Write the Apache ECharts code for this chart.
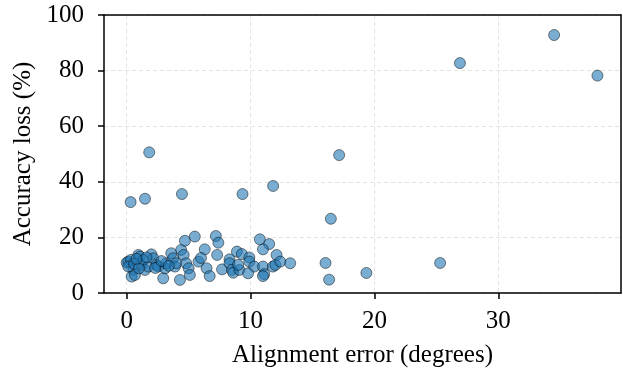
<!DOCTYPE html>
<html>
<head>
<meta charset="utf-8">
<script src="https://cdn.jsdelivr.net/npm/echarts@6/dist/echarts.min.js"></script>
<style>
  html, body { margin: 0; padding: 0; background: #fff; }
  #chart { width: 623px; height: 369px; }
</style>
</head>
<body>
<div id="chart"></div>
<script>
// alignment error (degrees) per run
var alignErr = [
  1.82, 0.32, 1.48, 4.46, 9.35, 11.82, 17.15, 16.48, 16.05, 16.34, 19.35, 25.3, 26.9, 34.5, 38.0,
  0.0, 0.13, 0.35, 0.54, 0.13, 0.4, 0.67, 0.94, 1.07, 1.2, 1.34, 1.48, 1.74, 2.0, 2.15, 2.4,
  2.55, 2.95, 3.1, 3.2, 3.6, 3.75, 3.9, 4.0, 4.3, 4.4, 4.6, 4.7, 4.8, 5.0, 5.1, 5.5, 5.8, 6.3, 6.45,
  6.7, 7.2, 7.4, 7.3, 7.7, 8.3, 8.3, 8.9, 9.3, 9.9, 9.9, 10.3, 8.5, 8.6, 9.1, 9.0, 9.8,
  10.75, 11.5, 11.0, 11.0, 11.1, 11.0, 11.8, 12.0, 12.1, 12.4, 13.2,
  0.6, 1.0, 0.8, 1.6, 2.3, 2.8, 3.4, 6.0
];
// accuracy loss (%) for the same runs
var accLoss = [
  50.6, 32.7, 33.9, 35.6, 35.6, 38.5, 49.6, 26.7, 10.8, 4.8, 7.2, 10.8, 82.7, 92.8, 78.2,
  10.9, 11.3, 11.9, 8.3, 9.5, 5.9, 6.5, 13.7, 13.1, 10.1, 11.9, 8.3, 9.5, 13.9, 12.5, 10.1,
  9.5, 5.3, 8.9, 10.7, 14.3, 12.5, 9.5, 10.7, 4.7, 15.5, 13.7, 18.8, 10.7, 8.9, 6.5, 20.3, 11.3, 15.7, 8.9,
  6.1, 20.5, 18.1, 13.7, 8.5, 12.1, 10.7, 14.9, 14.0, 12.8, 11.3, 9.5, 8.3, 7.3, 8.3, 10.1, 7.1,
  19.3, 17.6, 15.7, 9.5, 6.8, 6.1, 9.5, 10.1, 13.7, 11.3, 10.7,
  10.5, 8.9, 12.3, 12.8, 9.0, 11.5, 9.8, 12.6
];
var xTicks = [0, 10, 20, 30];

var points = alignErr.map(function (v, i) { return [v, accLoss[i]]; });

var font = 'Liberation Serif';
var black = { color: '#000', width: 1.5 };
var grid = { color: '#e3e3e3', type: [4, 3], width: 1 };
var chart = echarts.init(document.getElementById('chart'));
chart.setOption({
  animation: false,
  grid: { left: 104, right: 2, top: 15, bottom: 76, outerBoundsMode: 'none', containLabel: false },
  xAxis: [{
    type: 'value',
    min: -1.83,
    max: 39.9,
    name: 'Alignment error (degrees)',
    nameLocation: 'middle',
    nameGap: 50,
    nameTextStyle: { fontFamily: font, fontSize: 25, color: '#000' },
    axisLine: { show: true, onZero: false, lineStyle: black },
    axisTick: { show: true, customValues: xTicks, length: 6, lineStyle: black },
    axisLabel: { customValues: xTicks, fontFamily: font, fontSize: 25, color: '#000', margin: 16 },
    splitLine: { show: true, lineStyle: grid }
  }, {
    // top frame
    type: 'value', position: 'top', min: -1.83, max: 39.9,
    axisLine: { show: true, onZero: false, lineStyle: black },
    axisTick: { show: false }, axisLabel: { show: false }, splitLine: { show: false }
  }],
  yAxis: [{
    type: 'value',
    min: 0,
    max: 100,
    interval: 20,
    name: 'Accuracy loss (%)',
    nameLocation: 'middle',
    nameGap: 68,
    nameTextStyle: { fontFamily: font, fontSize: 25, color: '#000' },
    axisLine: { show: true, onZero: false, lineStyle: black },
    axisTick: { show: true, length: 6, lineStyle: black },
    axisLabel: { fontFamily: font, fontSize: 25, color: '#000', margin: 20 },
    splitLine: { show: true, lineStyle: grid }
  }, {
    // right frame
    type: 'value', position: 'right', min: 0, max: 100,
    axisLine: { show: true, onZero: false, lineStyle: black },
    axisTick: { show: false }, axisLabel: { show: false }, splitLine: { show: false }
  }],
  series: [{
    type: 'scatter',
    data: points,
    symbolSize: 11,
    itemStyle: { color: '#1f77b4', borderColor: '#000', borderWidth: 0.8, opacity: 0.6 }
  }]
});
</script>
</body>
</html>
